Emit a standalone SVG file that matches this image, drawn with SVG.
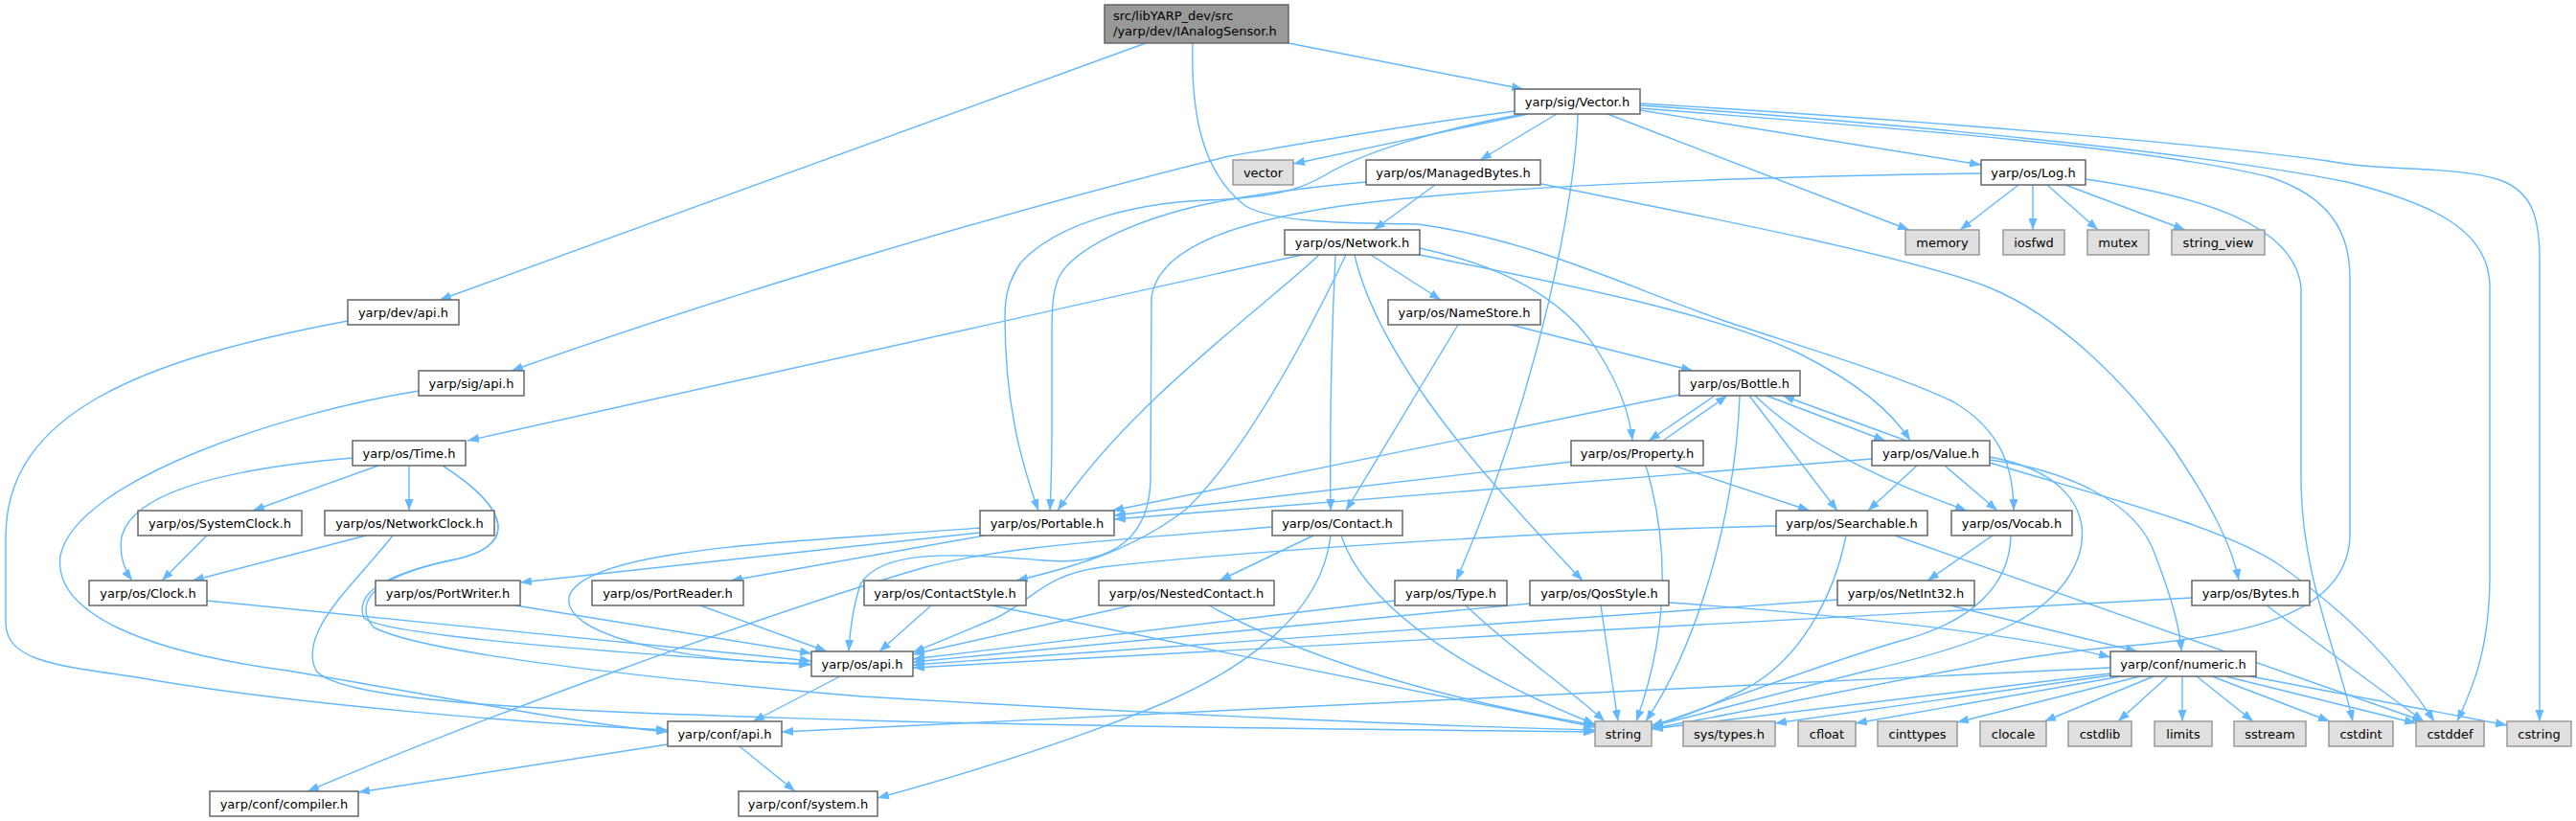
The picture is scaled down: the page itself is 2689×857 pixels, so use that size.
<svg xmlns="http://www.w3.org/2000/svg" width="2689" height="857" viewBox="0 0 2689 857">
<defs>
<style>
.e{fill:none;stroke:#63b8ff;stroke-width:1.4;marker-end:url(#ah)}
.n{fill:#ffffff;stroke:#666666;stroke-width:1.5}
.x{fill:#e0e0e0;stroke:#999999;stroke-width:1.5}
.r{fill:#999999;stroke:#666666;stroke-width:1.5}
text{font-family:"DejaVu Sans","Liberation Sans",sans-serif;font-size:13px;fill:#000000}
.t{text-anchor:middle}
</style>
<marker id="ah" viewBox="0 0 12 9" refX="12" refY="4.5" markerWidth="12" markerHeight="9" markerUnits="userSpaceOnUse" orient="auto"><path d="M0,0 L12,4.5 L0,9 z" fill="#63b8ff"/></marker>
</defs>
<rect width="2689" height="857" fill="#ffffff"/>
<g id="edges">
<path class="e" d="M1196,45 L459,313"/>
<path class="e" d="M1345,45 L1590,93"/>
<path class="e" d="M1245,45 C1243,120 1255,180 1300,215 C1330,232 1400,233 1480,234 C1600,250 1700,300 1800,335 C1900,368 1990,395 2040,420 C2090,450 2102,490 2102,533"/>
<path class="e" d="M1595,119 L1350,171"/>
<path class="e" d="M1625,119 L1545,167"/>
<path class="e" d="M1712,115 L2068,172"/>
<path class="e" d="M1678,119 L1993,240"/>
<path class="e" d="M1581,116 C1450,133 1330,155 1283,163 C1050,220 750,310 534,387"/>
<path class="e" d="M1590,119 C1500,135 1420,160 1383,183 C1355,200 1320,207 1260,209 C1180,212 1100,235 1065,275 C1052,295 1049,310 1049,330 C1049,420 1065,480 1084,533"/>
<path class="e" d="M1647,119 C1645,200 1610,400 1520,606"/>
<path class="e" d="M1712,113 C2000,135 2250,155 2370,185 C2430,205 2453,240 2453,290 L2453,560 C2450,640 2350,665 2200,676 C2050,690 1800,750 1724,760"/>
<path class="e" d="M1712,110 C2000,130 2300,160 2450,190 C2550,215 2599,245 2599,300 L2599,600 C2599,680 2580,720 2565,753"/>
<path class="e" d="M1712,108 C2000,125 2300,150 2430,168 C2490,180 2560,172 2610,188 C2642,200 2651,225 2651,270 L2651,753"/>
<path class="e" d="M2107,193 L2046,240"/>
<path class="e" d="M2122,193 L2122,240"/>
<path class="e" d="M2137,193 L2190,240"/>
<path class="e" d="M2156,193 L2281,240"/>
<path class="e" d="M2177,187 C2300,205 2395,235 2402,300 L2402,500 C2402,600 2440,680 2456,753"/>
<path class="e" d="M2068,181 C1800,185 1550,195 1400,215 C1300,230 1210,255 1202,310 L1201,500 C1200,570 1150,590 1090,585 C1000,578 920,572 898,610 C890,635 887,660 886,680"/>
<path class="e" d="M1498,193 L1434,240"/>
<path class="e" d="M1426,190 C1380,194 1310,202 1250,215 C1180,232 1120,260 1105,290 C1099,305 1098,320 1098,350 L1098,450 C1098,490 1097,510 1096,533"/>
<path class="e" d="M1609,192 C1800,230 2000,270 2076,300 C2150,330 2220,400 2270,470 C2310,530 2330,570 2337,606"/>
<path class="e" d="M1359,266 L488,460"/>
<path class="e" d="M1377,266 C1320,320 1180,420 1104,533"/>
<path class="e" d="M1405,266 C1360,360 1300,470 1240,530 C1190,570 1130,590 1061,606"/>
<path class="e" d="M1394,266 C1390,350 1388,450 1389,533"/>
<path class="e" d="M1431,266 L1504,313"/>
<path class="e" d="M1414,266 C1440,380 1560,510 1652,606"/>
<path class="e" d="M1482,259 C1580,280 1640,320 1670,370 C1695,410 1702,440 1704,460"/>
<path class="e" d="M1482,266 C1650,300 1800,330 1880,370 C1940,400 1975,430 1994,460"/>
<path class="e" d="M1522,339 L1405,533"/>
<path class="e" d="M1577,339 L1767,387"/>
<path class="e" d="M1753,412 L1161,533"/>
<path class="e" d="M1790,413 L1721,460"/>
<path class="e" d="M1736,460 L1803,413"/>
<path class="e" d="M1816,413 C1812,520 1780,660 1718,753"/>
<path class="e" d="M1826,413 L1918,533"/>
<path class="e" d="M1832,413 C1880,460 1960,500 2053,533"/>
<path class="e" d="M1844,413 L1968,460"/>
<path class="e" d="M1990,460 L1861,413"/>
<path class="e" d="M1954,479 L1163,542"/>
<path class="e" d="M2001,486 L1950,533"/>
<path class="e" d="M2030,486 L2085,533"/>
<path class="e" d="M2077,480 C2150,490 2230,520 2250,580 C2265,620 2275,650 2277,680"/>
<path class="e" d="M2077,483 C2200,520 2320,550 2380,590 C2450,640 2500,690 2541,753"/>
<path class="e" d="M2077,477 C2150,490 2185,530 2170,580 C2150,640 2080,670 1950,700 C1850,725 1760,750 1724,758"/>
<path class="e" d="M1854,549 C1600,555 1300,575 1150,592 C1090,600 1080,625 1040,645 C1000,662 975,672 953,681"/>
<path class="e" d="M1927,559 C1915,620 1880,690 1820,720 C1780,740 1750,752 1724,757"/>
<path class="e" d="M1978,559 L2530,753"/>
<path class="e" d="M2080,559 L2012,606"/>
<path class="e" d="M2099,559 C2098,610 2060,650 1980,670 C1880,700 1780,740 1724,758"/>
<path class="e" d="M1640,482 L1163,538"/>
<path class="e" d="M1747,486 L1889,533"/>
<path class="e" d="M1718,486 C1740,560 1745,650 1708,753"/>
<path class="e" d="M1023,551 C850,565 620,570 595,620 C580,660 700,690 846,693"/>
<path class="e" d="M1023,556 L543,608"/>
<path class="e" d="M1028,559 L763,606"/>
<path class="e" d="M1371,559 L1273,606"/>
<path class="e" d="M1400,559 C1420,620 1500,690 1665,756"/>
<path class="e" d="M1389,559 C1380,640 1300,700 1200,740 C1100,780 1000,810 916,833"/>
<path class="e" d="M1328,550 C1150,565 1050,570 966,592 C800,640 500,750 321,826"/>
<path class="e" d="M972,632 L918,680"/>
<path class="e" d="M1035,632 L1665,759"/>
<path class="e" d="M1181,632 L953,683"/>
<path class="e" d="M1262,632 C1330,670 1450,720 1665,757"/>
<path class="e" d="M1456,627 L953,688"/>
<path class="e" d="M1530,632 C1580,680 1640,720 1675,753"/>
<path class="e" d="M1597,630 L953,691"/>
<path class="e" d="M1671,632 L1689,753"/>
<path class="e" d="M1742,629 C1900,640 2100,660 2203,686"/>
<path class="e" d="M1918,626 L953,694"/>
<path class="e" d="M2036,632 L2231,680"/>
<path class="e" d="M2288,624 L953,697"/>
<path class="e" d="M2366,632 L2530,753"/>
<path class="e" d="M2203,697 L816,764"/>
<path class="e" d="M2203,703 L1724,761"/>
<path class="e" d="M2203,705 L1853,755"/>
<path class="e" d="M2214,706 L1937,755"/>
<path class="e" d="M2234,706 L2043,754"/>
<path class="e" d="M2248,706 L2134,753"/>
<path class="e" d="M2263,706 L2211,753"/>
<path class="e" d="M2278,706 L2278,753"/>
<path class="e" d="M2293,706 L2352,753"/>
<path class="e" d="M2309,706 L2432,753"/>
<path class="e" d="M2323,706 L2522,755"/>
<path class="e" d="M2349,706 L2617,757"/>
<path class="e" d="M877,706 L786,753"/>
<path class="e" d="M697,777 L374,827"/>
<path class="e" d="M772,779 L830,826"/>
<path class="e" d="M363,335 C150,375 6,430 6,560 L6,650 C6,690 60,695 143,707 C300,735 550,755 697,762"/>
<path class="e" d="M437,408 C300,430 80,500 63,580 C55,640 150,680 300,700 C450,725 600,755 697,764"/>
<path class="e" d="M395,486 L264,533"/>
<path class="e" d="M427,486 L427,533"/>
<path class="e" d="M368,478 C250,488 140,510 127,560 C124,580 130,595 138,606"/>
<path class="e" d="M462,486 C530,530 545,570 470,585 C400,600 370,620 380,645 C400,665 700,685 846,694"/>
<path class="e" d="M462,486 C530,530 545,570 470,585 C400,600 365,625 390,655 C450,685 700,710 900,727 C1200,745 1500,758 1665,762"/>
<path class="e" d="M216,559 L169,606"/>
<path class="e" d="M382,559 L201,606"/>
<path class="e" d="M410,559 C370,610 310,660 330,700 C360,740 700,745 900,752 C1200,760 1500,762 1665,764"/>
<path class="e" d="M216,627 L847,690"/>
<path class="e" d="M538,632 L847,682"/>
<path class="e" d="M731,632 L863,680"/>
</g>
<g id="node-root"><rect class="r" x="1153" y="5" width="192" height="40"/><text x="1162" y="21">src/libYARP_dev/src</text><text x="1162" y="37">/yarp/dev/IAnalogSensor.h</text></g>
<g id="node-sig-vector-h"><rect class="n" x="1581" y="93" width="131" height="26"/><text class="t" x="1646.5" y="111">yarp/sig/Vector.h</text></g>
<g id="node-vector"><rect class="x" x="1287" y="167" width="63" height="26"/><text class="t" x="1318.5" y="185">vector</text></g>
<g id="node-managedbytes"><rect class="n" x="1426" y="167" width="182" height="26"/><text class="t" x="1517" y="185">yarp/os/ManagedBytes.h</text></g>
<g id="node-log"><rect class="n" x="2068" y="167" width="109" height="26"/><text class="t" x="2122.5" y="185">yarp/os/Log.h</text></g>
<g id="node-network"><rect class="n" x="1341" y="240" width="141" height="26"/><text class="t" x="1411.5" y="258">yarp/os/Network.h</text></g>
<g id="node-memory"><rect class="x" x="1989" y="240" width="77" height="26"/><text class="t" x="2027.5" y="258">memory</text></g>
<g id="node-iosfwd"><rect class="x" x="2091" y="240" width="64" height="26"/><text class="t" x="2123" y="258">iosfwd</text></g>
<g id="node-mutex"><rect class="x" x="2179" y="240" width="64" height="26"/><text class="t" x="2211" y="258">mutex</text></g>
<g id="node-string-view"><rect class="x" x="2267" y="240" width="97" height="26"/><text class="t" x="2315.5" y="258">string_view</text></g>
<g id="node-dev-api"><rect class="n" x="363" y="313" width="116" height="26"/><text class="t" x="421" y="331">yarp/dev/api.h</text></g>
<g id="node-namestore"><rect class="n" x="1449" y="313" width="159" height="26"/><text class="t" x="1528.5" y="331">yarp/os/NameStore.h</text></g>
<g id="node-sig-api"><rect class="n" x="437" y="387" width="110" height="26"/><text class="t" x="492" y="405">yarp/sig/api.h</text></g>
<g id="node-bottle"><rect class="n" x="1753" y="387" width="126" height="26"/><text class="t" x="1816" y="405">yarp/os/Bottle.h</text></g>
<g id="node-time"><rect class="n" x="368" y="460" width="118" height="26"/><text class="t" x="427" y="478">yarp/os/Time.h</text></g>
<g id="node-property"><rect class="n" x="1640" y="460" width="138" height="26"/><text class="t" x="1709" y="478">yarp/os/Property.h</text></g>
<g id="node-value"><rect class="n" x="1954" y="460" width="123" height="26"/><text class="t" x="2015.5" y="478">yarp/os/Value.h</text></g>
<g id="node-systemclock"><rect class="n" x="144" y="533" width="171" height="26"/><text class="t" x="229.5" y="551">yarp/os/SystemClock.h</text></g>
<g id="node-networkclock"><rect class="n" x="339" y="533" width="177" height="26"/><text class="t" x="427.5" y="551">yarp/os/NetworkClock.h</text></g>
<g id="node-portable"><rect class="n" x="1023" y="533" width="140" height="26"/><text class="t" x="1093" y="551">yarp/os/Portable.h</text></g>
<g id="node-contact"><rect class="n" x="1328" y="533" width="136" height="26"/><text class="t" x="1396" y="551">yarp/os/Contact.h</text></g>
<g id="node-searchable"><rect class="n" x="1854" y="533" width="158" height="26"/><text class="t" x="1933" y="551">yarp/os/Searchable.h</text></g>
<g id="node-vocab"><rect class="n" x="2037" y="533" width="126" height="26"/><text class="t" x="2100" y="551">yarp/os/Vocab.h</text></g>
<g id="node-clock"><rect class="n" x="93" y="606" width="123" height="26"/><text class="t" x="154.5" y="624">yarp/os/Clock.h</text></g>
<g id="node-portwriter"><rect class="n" x="392" y="606" width="151" height="26"/><text class="t" x="467.5" y="624">yarp/os/PortWriter.h</text></g>
<g id="node-portreader"><rect class="n" x="618" y="606" width="158" height="26"/><text class="t" x="697" y="624">yarp/os/PortReader.h</text></g>
<g id="node-contactstyle"><rect class="n" x="902" y="606" width="169" height="26"/><text class="t" x="986.5" y="624">yarp/os/ContactStyle.h</text></g>
<g id="node-nestedcontact"><rect class="n" x="1147" y="606" width="183" height="26"/><text class="t" x="1238.5" y="624">yarp/os/NestedContact.h</text></g>
<g id="node-type"><rect class="n" x="1456" y="606" width="117" height="26"/><text class="t" x="1514.5" y="624">yarp/os/Type.h</text></g>
<g id="node-qosstyle"><rect class="n" x="1597" y="606" width="145" height="26"/><text class="t" x="1669.5" y="624">yarp/os/QosStyle.h</text></g>
<g id="node-netint32"><rect class="n" x="1918" y="606" width="143" height="26"/><text class="t" x="1989.5" y="624">yarp/os/NetInt32.h</text></g>
<g id="node-bytes"><rect class="n" x="2288" y="606" width="123" height="26"/><text class="t" x="2349.5" y="624">yarp/os/Bytes.h</text></g>
<g id="node-os-api"><rect class="n" x="847" y="680" width="106" height="26"/><text class="t" x="900" y="698">yarp/os/api.h</text></g>
<g id="node-numeric"><rect class="n" x="2203" y="680" width="152" height="26"/><text class="t" x="2279" y="698">yarp/conf/numeric.h</text></g>
<g id="node-conf-api"><rect class="n" x="697" y="753" width="119" height="26"/><text class="t" x="756.5" y="771">yarp/conf/api.h</text></g>
<g id="node-string"><rect class="x" x="1665" y="753" width="59" height="26"/><text class="t" x="1694.5" y="771">string</text></g>
<g id="node-systypes"><rect class="x" x="1757" y="753" width="96" height="26"/><text class="t" x="1805" y="771">sys/types.h</text></g>
<g id="node-cfloat"><rect class="x" x="1877" y="753" width="60" height="26"/><text class="t" x="1907" y="771">cfloat</text></g>
<g id="node-cinttypes"><rect class="x" x="1960" y="753" width="83" height="26"/><text class="t" x="2001.5" y="771">cinttypes</text></g>
<g id="node-clocale"><rect class="x" x="2067" y="753" width="69" height="26"/><text class="t" x="2101.5" y="771">clocale</text></g>
<g id="node-cstdlib"><rect class="x" x="2159" y="753" width="66" height="26"/><text class="t" x="2192" y="771">cstdlib</text></g>
<g id="node-limits"><rect class="x" x="2249" y="753" width="60" height="26"/><text class="t" x="2279" y="771">limits</text></g>
<g id="node-sstream"><rect class="x" x="2332" y="753" width="75" height="26"/><text class="t" x="2369.5" y="771">sstream</text></g>
<g id="node-cstdint"><rect class="x" x="2431" y="753" width="67" height="26"/><text class="t" x="2464.5" y="771">cstdint</text></g>
<g id="node-cstddef"><rect class="x" x="2522" y="753" width="71" height="26"/><text class="t" x="2557.5" y="771">cstddef</text></g>
<g id="node-cstring"><rect class="x" x="2617" y="753" width="67" height="26"/><text class="t" x="2650.5" y="771">cstring</text></g>
<g id="node-compiler"><rect class="n" x="219" y="826" width="155" height="26"/><text class="t" x="296.5" y="844">yarp/conf/compiler.h</text></g>
<g id="node-system"><rect class="n" x="771" y="826" width="145" height="26"/><text class="t" x="843.5" y="844">yarp/conf/system.h</text></g>
</svg>
